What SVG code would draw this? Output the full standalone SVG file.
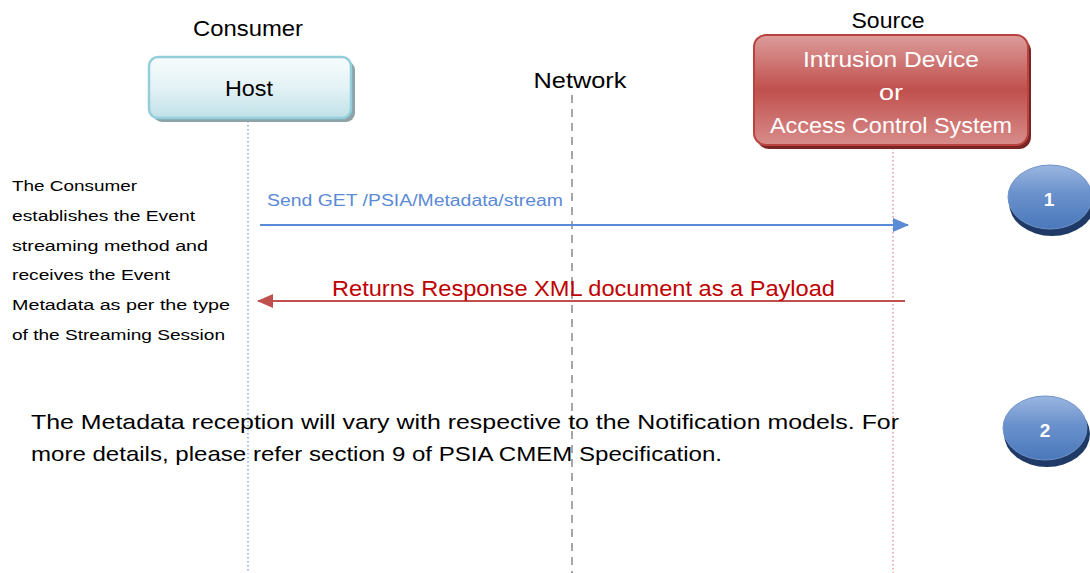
<svg xmlns="http://www.w3.org/2000/svg" width="1090" height="573" viewBox="0 0 1090 573">
  <style>
    text { font-family: "Liberation Sans", Arial, sans-serif; }
    .hdr { font-size: 22px; fill: #000; text-anchor: middle; }
    .note { font-size: 15.5px; fill: #000; }
    .body { font-size: 21px; fill: #000; }
    .step { font-size: 19px; font-weight: bold; fill: #fff; text-anchor: middle; }
    .white { font-size: 22.5px; fill: #fff; text-anchor: middle; }
  </style>
  <defs>
    <linearGradient id="hostFill" x1="0" y1="0" x2="0" y2="1">
      <stop offset="0" stop-color="#f7fcfd"/>
      <stop offset="0.5" stop-color="#e4f2f5"/>
      <stop offset="1" stop-color="#bfe1e8"/>
    </linearGradient>
    <linearGradient id="srcFill" x1="0" y1="0" x2="0" y2="1">
      <stop offset="0" stop-color="#dc9c9b"/>
      <stop offset="0.5" stop-color="#c0504d"/>
      <stop offset="1" stop-color="#d88d8b"/>
    </linearGradient>
    <linearGradient id="stepFill" x1="0" y1="0" x2="0" y2="1">
      <stop offset="0" stop-color="#9ab6e0"/>
      <stop offset="0.45" stop-color="#6a91cc"/>
      <stop offset="1" stop-color="#4a78bb"/>
    </linearGradient>
    <marker id="arrowBlue" markerWidth="16" markerHeight="14" refX="15" refY="7" orient="auto" markerUnits="userSpaceOnUse">
      <path d="M0,0 L16,7 L0,14 Z" fill="#5b8ad6"/>
    </marker>
    <marker id="arrowRed" markerWidth="16" markerHeight="14" refX="15" refY="7" orient="auto" markerUnits="userSpaceOnUse">
      <path d="M0,0 L16,7 L0,14 Z" fill="#c0504d"/>
    </marker>
  </defs>

  <!-- lane headings -->
  <text class="hdr" x="248" y="36" textLength="110" lengthAdjust="spacingAndGlyphs">Consumer</text>
  <text class="hdr" x="580" y="88" textLength="93" lengthAdjust="spacingAndGlyphs">Network</text>
  <text class="hdr" x="888" y="28" textLength="73" lengthAdjust="spacingAndGlyphs">Source</text>

  <!-- lifelines -->
  <g id="lifelines">
    <line x1="248" y1="121" x2="248" y2="573" stroke="#7fa7e0" stroke-width="1.5" stroke-dasharray="1.5,2.5"/>
    <line x1="572" y1="95" x2="572" y2="573" stroke="#a6a6a6" stroke-width="2" stroke-dasharray="8,6"/>
    <line x1="893" y1="148" x2="893" y2="573" stroke="#e8a0a0" stroke-width="1.5" stroke-dasharray="1.5,2.5"/>
  </g>

  <!-- Host node -->
  <g id="host">
    <rect x="153" y="61" width="202" height="61" rx="9" fill="#8da3a8"/>
    <rect x="149" y="57" width="202" height="61" rx="9" fill="url(#hostFill)" stroke="#94cedb" stroke-width="2.5"/>
    <text class="hdr" x="249" y="96" textLength="48" lengthAdjust="spacingAndGlyphs">Host</text>
  </g>

  <!-- Source node -->
  <g id="source">
    <rect x="757" y="39" width="274" height="110" rx="12" fill="#7a2523"/>
    <rect x="754" y="35" width="274" height="110" rx="12" fill="url(#srcFill)" stroke="#b8433f" stroke-width="2"/>
    <text class="white" x="891" y="67" textLength="176" lengthAdjust="spacingAndGlyphs">Intrusion Device</text>
    <text class="white" x="891" y="100" textLength="24" lengthAdjust="spacingAndGlyphs">or</text>
    <text class="white" x="891" y="133" textLength="242" lengthAdjust="spacingAndGlyphs">Access Control System</text>
  </g>

  <!-- messages -->
  <g id="connectors">
    <line x1="260" y1="225" x2="908" y2="225" stroke="#5b8ad6" stroke-width="2" marker-end="url(#arrowBlue)"/>
    <text x="267" y="206" font-size="16px" fill="#5b8ad6" textLength="296" lengthAdjust="spacingAndGlyphs">Send GET /PSIA/Metadata/stream</text>
    <line x1="905" y1="301" x2="258" y2="301" stroke="#c0504d" stroke-width="2" marker-end="url(#arrowRed)"/>
    <text x="332" y="296" font-size="22px" fill="#c00000" textLength="503" lengthAdjust="spacingAndGlyphs">Returns Response XML document as a Payload</text>
  </g>

  <!-- side note -->
  <g id="note">
    <text class="note" x="12" y="191" textLength="125" lengthAdjust="spacingAndGlyphs">The Consumer</text>
    <text class="note" x="12" y="221" textLength="183" lengthAdjust="spacingAndGlyphs">establishes the Event</text>
    <text class="note" x="12" y="251" textLength="196" lengthAdjust="spacingAndGlyphs">streaming method and</text>
    <text class="note" x="12" y="280" textLength="158" lengthAdjust="spacingAndGlyphs">receives the Event</text>
    <text class="note" x="12" y="310" textLength="218" lengthAdjust="spacingAndGlyphs">Metadata as per the type</text>
    <text class="note" x="12" y="340" textLength="213" lengthAdjust="spacingAndGlyphs">of the Streaming Session</text>
  </g>

  <!-- description -->
  <g id="description">
    <text class="body" x="31" y="429" textLength="868" lengthAdjust="spacingAndGlyphs">The Metadata reception will vary with respective to the Notification models. For</text>
    <text class="body" x="31" y="461" textLength="691" lengthAdjust="spacingAndGlyphs">more details, please refer section 9 of PSIA CMEM Specification.</text>
  </g>

  <!-- step badges -->
  <g id="step1">
    <ellipse cx="1052" cy="203" rx="43" ry="33" fill="#1f3a66"/>
    <ellipse cx="1050" cy="197" rx="42" ry="32" fill="url(#stepFill)" stroke="#6f93c8" stroke-width="1"/>
    <text class="step" x="1049" y="206">1</text>
  </g>
  <g id="step2">
    <ellipse cx="1047" cy="434" rx="43" ry="33" fill="#1f3a66"/>
    <ellipse cx="1045" cy="428" rx="42" ry="32" fill="url(#stepFill)" stroke="#6f93c8" stroke-width="1"/>
    <text class="step" x="1045" y="437">2</text>
  </g>
</svg>
